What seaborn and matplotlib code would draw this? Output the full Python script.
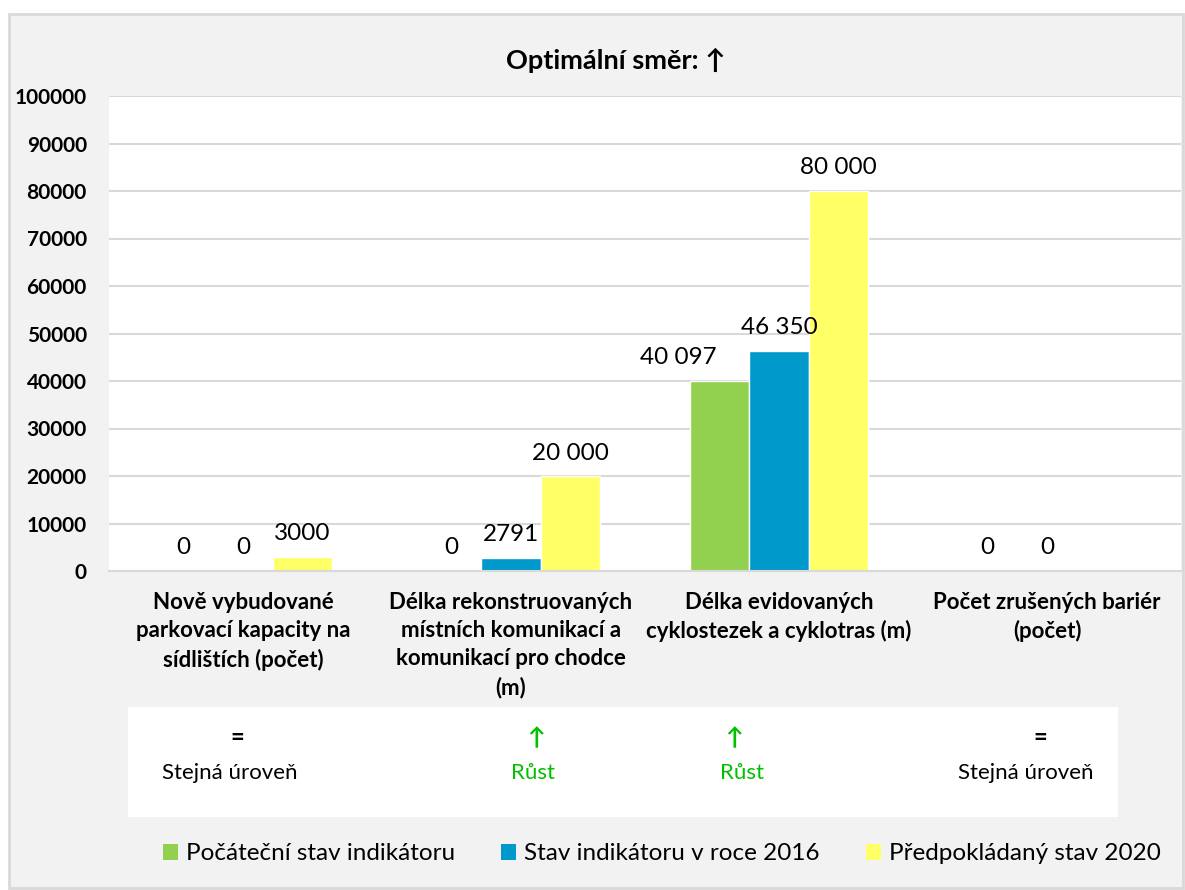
import numpy as np
import pandas as pd
import matplotlib.pyplot as plt
import seaborn as sns
from matplotlib.patches import Rectangle, Patch

# Data
categories = [
    'Nově vybudované\nparkovací kapacity na\nsídlištích (počet)',
    'Délka rekonstruovaných\nmístních komunikací a\nkomunikací pro chodce\n(m)',
    'Délka evidovaných\ncyklostezek a cyklotras (m)',
    'Počet zrušených bariér\n(počet)',
]
series = ['Počáteční stav indikátoru', 'Stav indikátoru v roce 2016', 'Předpokládaný stav 2020']
initial = [0, 0, 40097, 0]
year_2016 = [0, 2791, 46350, 0]
planned_2020 = [3000, 20000, 80000, np.nan]
trend_symbols = ['=', '↑', '↑', '=']
trend_labels = ['Stejná úroveň', 'Růst', 'Růst', 'Stejná úroveň']
y_ticks = list(range(0, 100001, 10000))
title = 'Optimální směr: ↑'

colors = ['#92d050', '#0099cc', '#ffff66']
trend_colors = {'=': 'black', '↑': '#00c000'}


def fmt(v):
    v = int(v)
    return f'{v:,}'.replace(',', ' ') if v >= 10000 else str(v)


rows = []
for s, vals in zip(series, [initial, year_2016, planned_2020]):
    for c, v in zip(categories, vals):
        rows.append({'cat': c, 'series': s, 'value': v})
df = pd.DataFrame(rows).dropna()

sns.set_style('white')
plt.rcParams['font.family'] = ['Lato', 'DejaVu Sans']
plt.rcParams['text.color'] = 'black'
plt.rcParams['xtick.color'] = 'black'
plt.rcParams['ytick.color'] = 'black'

fig = plt.figure(figsize=(11.85, 8.9), dpi=100)
fig.patch.set_facecolor('white')
fig.patches.append(Rectangle((9 / 1185, 2 / 890), 1174 / 1185, 874 / 890, transform=fig.transFigure,
                             facecolor='#f2f2f2', edgecolor='#d9d9d9', linewidth=2, zorder=-2))
fig.patches.append(Rectangle((128 / 1185, 73 / 890), 990 / 1185, 110 / 890, transform=fig.transFigure,
                             facecolor='white', edgecolor='none', zorder=-1))

ax = fig.add_axes([109 / 1185, 319 / 890, 1072 / 1185, 475 / 890])
ax.set_zorder(1)
ax.set_facecolor('white')

sns.barplot(data=df, x='cat', y='value', hue='series', order=categories, hue_order=series,
            palette=colors, width=0.664, gap=0, saturation=1, errorbar=None, legend=False, ax=ax)

# value labels above bars
for s, cont in zip(series, ax.containers):
    sub = df[df['series'] == s]
    for bar, v in zip(cont, sub['value']):
        dx = -30 if v == 40097 else 0
        ax.annotate(fmt(v), (bar.get_x() + bar.get_width() / 2, bar.get_height()),
                    xytext=(dx, 9), textcoords='offset points', ha='center', va='bottom',
                    fontsize=17.5, color='black')

ax.set_ylim(0, 100000)
ax.set_yticks(y_ticks)
ax.set_yticklabels([str(t) for t in y_ticks], fontsize=15, fontweight='bold')
ax.set_xlim(-0.5, len(categories) - 0.5)
ax.set_xticks(range(len(categories)))
ax.set_xticklabels(categories, fontsize=16, fontweight='bold', linespacing=1.42)
ax.tick_params(axis='y', length=0, pad=16)
ax.tick_params(axis='x', length=0, pad=15)
ax.set_xlabel('')
ax.set_ylabel('')
ax.yaxis.grid(True, color='#d9d9d9', linewidth=1.5)
ax.set_axisbelow(True)
for side in ['top', 'left', 'right']:
    ax.spines[side].set_visible(False)
ax.spines['bottom'].set_color('#d9d9d9')
ax.spines['bottom'].set_linewidth(1.5)

fig.text(616 / 1185, 830 / 890, title, ha='center', va='center', fontsize=19.5, fontweight='bold')

# optimal-direction box under the categories
sym_x = [237, 536, 734, 1040]
lab_x = [230, 533, 742, 1026]
for sym, lab, sx, lx in zip(trend_symbols, trend_labels, sym_x, lab_x):
    c = trend_colors[sym]
    fig.text(sx / 1185, (890 - 738) / 890, sym, ha='center', va='center', fontsize=17,
             fontweight='bold', color=c)
    fig.text(lx / 1185, (890 - 773) / 890, lab, ha='center', va='center', fontsize=16,
             color=c)

handles = [Patch(facecolor=col, edgecolor='none') for col in colors]
fig.legend(handles, series, loc='center', bbox_to_anchor=(662 / 1185, (890 - 854) / 890), ncol=3,
           frameon=False, fontsize=17.5, handlelength=0.6, handleheight=0.6, handletextpad=0.35,
           columnspacing=1.9)

fig.savefig('out.png', dpi=100, facecolor='white')
